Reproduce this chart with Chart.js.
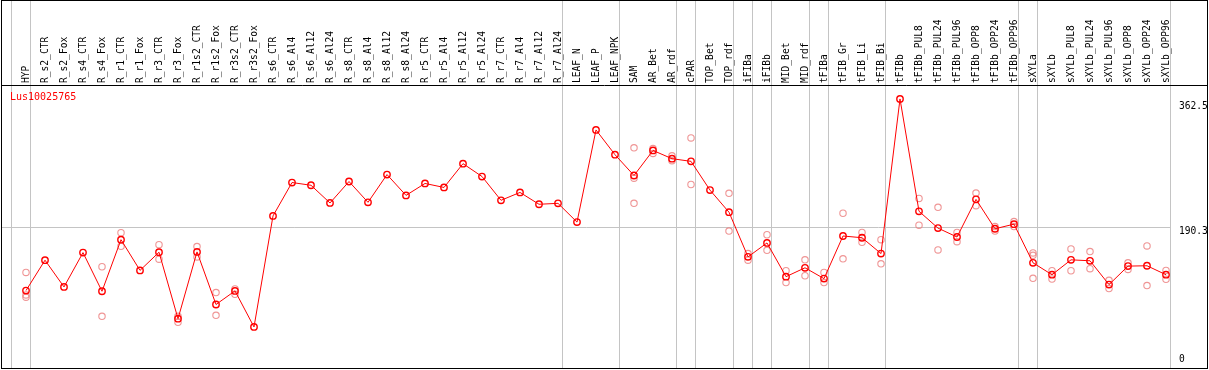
<!DOCTYPE html>
<html>
<head>
<meta charset="utf-8">
<script src="https://cdn.jsdelivr.net/npm/chart.js@4"></script>
<style>
  html, body { margin: 0; padding: 0; background: #fff; }
  canvas { display: block; }
</style>
</head>
<body>
<canvas id="chart" width="1209" height="370"></canvas>
<script>
const title = 'Lus10025765';
const categories = ['HYP', 'R_s2_CTR', 'R_s2_Fox', 'R_s4_CTR', 'R_s4_Fox', 'R_r1_CTR', 'R_r1_Fox', 'R_r3_CTR', 'R_r3_Fox',
  'R_r1s2_CTR', 'R_r1s2_Fox', 'R_r3s2_CTR', 'R_r3s2_Fox', 'R_s6_CTR', 'R_s6_Al4', 'R_s6_Al12', 'R_s6_Al24',
  'R_s8_CTR', 'R_s8_Al4', 'R_s8_Al12', 'R_s8_Al24', 'R_r5_CTR', 'R_r5_Al4', 'R_r5_Al12', 'R_r5_Al24',
  'R_r7_CTR', 'R_r7_Al4', 'R_r7_Al12', 'R_r7_Al24', 'LEAF_N', 'LEAF_P', 'LEAF_NPK', 'SAM', 'AR_Bet', 'AR_rdf',
  'cPAR', 'TOP_Bet', 'TOP_rdf', 'iFIBa', 'iFIBb', 'MID_Bet', 'MID_rdf', 'tFIBa', 'tFIB_Gr', 'tFIB_Li', 'tFIB_Bi',
  'tFIBb', 'tFIBb_PUL8', 'tFIBb_PUL24', 'tFIBb_PUL96', 'tFIBb_OPP8', 'tFIBb_OPP24', 'tFIBb_OPP96',
  'sXYLa', 'sXYLb', 'sXYLb_PUL8', 'sXYLb_PUL24', 'sXYLb_PUL96', 'sXYLb_OPP8', 'sXYLb_OPP24', 'sXYLb_OPP96'];

const meanValues = [102.5, 144.5, 107.5, 155.0, 101.5, 172.9, 130.4, 155.5, 63.5,
  156.0, 83.2, 102.0, 52.1, 205.8, 252.0, 248.2, 223.7,
  253.4, 224.6, 263.0, 234.2, 250.7, 245.2, 278.1, 260.3,
  227.4, 238.3, 221.9, 223.2, 197.2, 324.8, 290.5, 261.7, 296.4, 285.0,
  281.3, 241.5, 210.9, 149.1, 168.4, 121.7, 134.0, 119.0, 178.0, 175.6, 153.7,
  367.7, 212.2, 188.9, 176.6, 228.7, 188.0, 194.4,
  140.9, 124.4, 145.0, 143.7, 110.7, 136.3, 136.8, 124.4];

// replicate samples (null where hidden under the mean marker)
const rep1 = [127.6, null, null, null, 135.4, 182.5, null, 166.0, 66.8,
  163.3, 99.7, 104.7, null, null, null, null, null,
  null, null, null, null, null, null, null, null,
  null, null, null, null, null, null, null, 300.0, 299.0, 289.0,
  313.8, null, 237.0, 153.7, 179.7, 129.9, 145.0, 127.6, 209.5, 182.9, 172.9,
  null, 230.0, 217.7, 182.9, 237.4, 191.1, 198.0,
  154.6, 129.9, 160.1, 156.4, 116.6, 140.9, 164.2, 130.4];
const rep2 = [96.5, null, null, null, null, null, null, null, null,
  null, null, null, null, null, null, null, null,
  null, null, null, null, null, null, null, null,
  null, null, null, null, null, null, null, 258.0, null, null,
  null, null, null, null, null, null, null, null, null, null, null,
  null, null, null, null, null, null, null,
  151.3, null, null, null, null, null, null, null];
const rep3 = [93.3, null, null, null, 66.8, 163.7, null, 145.9, 58.6,
  149.0, 68.2, 97.4, null, null, null, null, null,
  null, null, null, null, null, null, null, null,
  null, null, null, null, null, null, null, 223.2, 292.3, 282.2,
  249.3, null, 184.8, 144.5, 158.2, 113.5, 123.0, 113.5, 146.4, 169.2, 139.5,
  null, 193.0, 158.7, 170.1, 220.0, 184.8, 191.1,
  119.4, 118.4, 129.9, 132.7, 105.2, 131.7, 109.4, 118.0];

const yTickValues = [0, 190.3, 362.5];
// vertical separators go after these category indices (-1 = before first)
const groupEnds = [-1, 0, 28, 31, 34, 35, 37, 38, 39, 41, 42, 45, 52, 53, 60];

const MONO = '9.6px "DejaVu Sans Mono", monospace';

const decor = {
  id: 'decor',
  beforeDatasetsDraw(chart) {
    const ctx = chart.ctx;
    const x = chart.scales.x, y = chart.scales.y;
    const W = chart.width;
    ctx.save();
    ctx.strokeStyle = '#c4c4c4';
    ctx.lineWidth = 1;
    const step = x.getPixelForValue(1) - x.getPixelForValue(0);
    const x0 = x.getPixelForValue(0);
    // horizontal gridline at middle tick
    const gy = Math.round(y.getPixelForValue(yTickValues[1])) + 0.5;
    const lastX = Math.floor(x0 + 60 * step + 4.5) + 0.5;
    ctx.beginPath();
    ctx.moveTo(2, gy); ctx.lineTo(lastX, gy);
    ctx.stroke();
    // group separators
    groupEnds.forEach(i => {
      const px = Math.floor(x0 + i * step + 4.5) + 0.5;
      ctx.beginPath();
      ctx.moveTo(px, 1); ctx.lineTo(px, 368);
      ctx.stroke();
    });
    // frame + header line
    ctx.strokeStyle = '#000';
    ctx.strokeRect(1.5, 0.5, W - 3, 368);
    ctx.beginPath();
    ctx.moveTo(1, 85.5); ctx.lineTo(W - 1, 85.5);
    ctx.stroke();
    // header labels
    ctx.fillStyle = '#000';
    ctx.font = MONO;
    ctx.textAlign = 'left';
    ctx.textBaseline = 'middle';
    categories.forEach((c, i) => {
      const px = x.getPixelForValue(i);
      ctx.save();
      ctx.translate(px + 0.5, 83);
      ctx.rotate(-Math.PI / 2);
      ctx.fillText(c, 0, 0);
      ctx.restore();
    });
    // right tick labels
    yTickValues.forEach(v => {
      let py = y.getPixelForValue(v) + 4;
      py = Math.min(py, y.bottom - 5);
      ctx.fillText(String(v), 1179, py);
    });
    // title
    ctx.fillStyle = '#ff0000';
    ctx.font = '10px "DejaVu Sans Mono", monospace';
    ctx.fillText(title, 10, 97);
    ctx.restore();
  }
};

const repStyle = {
  type: 'line',
  showLine: false,
  borderColor: 'rgba(236,130,130,0.85)',
  backgroundColor: 'rgba(0,0,0,0)',
  pointRadius: 3.2,
  pointBorderWidth: 1.1,
  order: 2
};

const config = {
  type: 'line',
  data: {
    labels: categories,
    datasets: [
      {
        label: 'mean',
        data: meanValues,
        borderColor: '#ff0000',
        borderWidth: 1,
        backgroundColor: 'rgba(0,0,0,0)',
        pointBorderColor: '#ff0000',
        pointRadius: 3.2,
        pointBorderWidth: 1.4,
        tension: 0,
        order: 0
      },
      Object.assign({ label: 'rep1', data: rep1 }, repStyle),
      Object.assign({ label: 'rep2', data: rep2 }, repStyle),
      Object.assign({ label: 'rep3', data: rep3 }, repStyle)
    ]
  },
  options: {
    responsive: false,
    animation: false,
    clip: false,
    layout: { padding: { left: 16.5, right: 33.5, top: 86, bottom: 3 } },
    plugins: {
      legend: { display: false },
      tooltip: { enabled: false },
      title: { display: false }
    },
    scales: {
      x: { type: 'category', offset: true, display: false },
      y: { min: 0, max: 385.6, display: false }
    }
  },
  plugins: [decor]
};

var chart = new Chart(document.getElementById('chart'), config);
</script>
</body>
</html>
